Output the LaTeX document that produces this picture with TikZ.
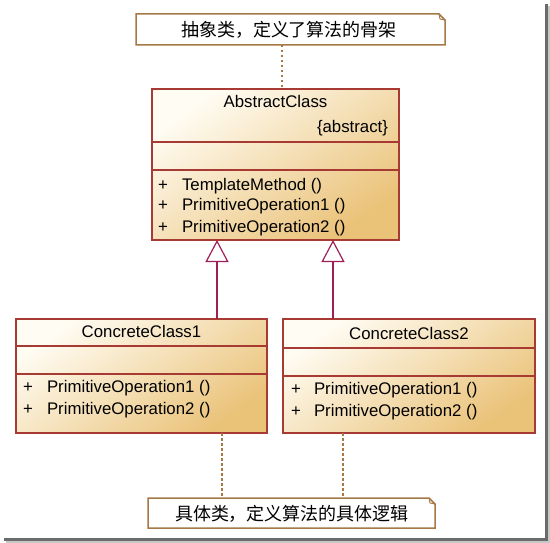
\documentclass[tikz,border=0pt]{standalone}
\usepackage{fontspec}
\setmainfont{Liberation Sans}
\newfontfamily\cjk{Noto Sans CJK SC}
\usetikzlibrary{arrows.meta,calc}
\definecolor{clsborder}{RGB}{168,58,52}
\definecolor{clslight}{RGB}{255,252,243}
\definecolor{clsdark}{RGB}{234,194,120}
\definecolor{inhcol}{RGB}{158,30,88}
\definecolor{notecol}{RGB}{165,120,70}
\begin{document}
\begin{tikzpicture}[x=1pt,y=-1pt,
  font=\fontsize{16.8}{20}\selectfont,
  classbox/.style={draw=clsborder, line width=1.3pt, top color=clslight, bottom color=clsdark, shading angle=35, anchor=north west, inner sep=0pt, outer sep=0pt},
  sepline/.style={draw=clsborder, line width=1.1pt},
  txt/.style={inner sep=0pt, outer sep=0pt},
  notebox/.style={inner sep=0pt, outer sep=0pt, font=\cjk\fontsize{18}{20}\selectfont},
  noteline/.style={draw=notecol, line width=1.5pt, fill=white, line join=miter},
  dots/.style={draw=notecol, line width=1.6pt, dash pattern=on 2.5pt off 2.5pt},
  inh/.style={draw=inhcol, line width=1.2pt, -{Triangle[open, fill=white, length=22pt, width=23pt]}}
]
\useasboundingbox (0,0) rectangle (550,543);
\fill[white] (0,0) rectangle (550,543);
% frame shadow
\fill[black!58] (545,4) rectangle (547.5,540.5);
\fill[black!58] (4,538) rectangle (547.5,540.5);
\fill[black!22] (547.5,6) rectangle (550,543);
\fill[black!22] (6,540.5) rectangle (550,543);

% ---------- AbstractClass ----------
\node[classbox, minimum width=247pt, minimum height=151pt] (abs) at (152,89) {};
\draw[sepline] (abs.west |- 0,142) -- (abs.east |- 0,142);
\draw[sepline] (abs.west |- 0,170) -- (abs.east |- 0,170);
\node[txt, anchor=base] (absname) at (275.5,107.5) {AbstractClass};
\node[txt, anchor=base east] (absster) at (388,133) {\{abstract\}};
\node[txt, anchor=base] (absp1) at (163,190) {+};
\node[txt, anchor=base west] (abso1) at (182,190) {TemplateMethod ()};
\node[txt, anchor=base] (absp2) at (163,211) {+};
\node[txt, anchor=base west] (abso2) at (182,211) {PrimitiveOperation1 ()};
\node[txt, anchor=base] (absp3) at (163,232.5) {+};
\node[txt, anchor=base west] (abso3) at (182,232.5) {PrimitiveOperation2 ()};

% ---------- ConcreteClass1 ----------
\node[classbox, minimum width=251pt, minimum height=114pt] (cc1) at (16,319) {};
\draw[sepline] (cc1.west |- 0,346) -- (cc1.east |- 0,346);
\draw[sepline] (cc1.west |- 0,374) -- (cc1.east |- 0,374);
\node[txt, anchor=base] (cc1name) at (141.5,337) {ConcreteClass1};
\node[txt, anchor=base] (cc1p1) at (28,392.5) {+};
\node[txt, anchor=base west] (cc1o1) at (47,392.5) {PrimitiveOperation1 ()};
\node[txt, anchor=base] (cc1p2) at (28,414.5) {+};
\node[txt, anchor=base west] (cc1o2) at (47,414.5) {PrimitiveOperation2 ()};

% ---------- ConcreteClass2 ----------
\node[classbox, minimum width=252pt, minimum height=114pt] (cc2) at (283,319) {};
\draw[sepline] (cc2.west |- 0,348) -- (cc2.east |- 0,348);
\draw[sepline] (cc2.west |- 0,376) -- (cc2.east |- 0,376);
\node[txt, anchor=base] (cc2name) at (409,339) {ConcreteClass2};
\node[txt, anchor=base] (cc2p1) at (296,394.5) {+};
\node[txt, anchor=base west] (cc2o1) at (314,394.5) {PrimitiveOperation1 ()};
\node[txt, anchor=base] (cc2p2) at (296,416) {+};
\node[txt, anchor=base west] (cc2o2) at (314,416) {PrimitiveOperation2 ()};

% ---------- notes ----------
\node[notebox, minimum width=309pt, minimum height=31pt] (n1) at (290.5,29.5) {};
\draw[noteline] (n1.south west) -- (n1.north west) -- ([xshift=-6pt]n1.north east) -- ([yshift=-6pt]n1.north east) -- (n1.south east) -- cycle;
\draw[draw=notecol, line width=0.9pt] ([xshift=-6pt]n1.north east) -- ([xshift=-5pt,yshift=-5pt]n1.north east) -- ([yshift=-6pt]n1.north east);
\node[notebox] (n1t) at (289,30) {抽象类，定义了算法的骨架};

\node[notebox, minimum width=287pt, minimum height=30pt] (n2) at (291.5,513) {};
\draw[noteline] (n2.south west) -- (n2.north west) -- ([xshift=-6pt]n2.north east) -- ([yshift=-6pt]n2.north east) -- (n2.south east) -- cycle;
\draw[draw=notecol, line width=0.9pt] ([xshift=-6pt]n2.north east) -- ([xshift=-5pt,yshift=-5pt]n2.north east) -- ([yshift=-6pt]n2.north east);
\node[notebox] (n2t) at (292,514) {具体类，定义算法的具体逻辑};

% ---------- connectors ----------
\coordinate (t1) at (282,0);
\coordinate (b1) at (222,0);
\coordinate (b2) at (343,0);
\draw[dots] (n1.south -| t1) -- (abs.north -| t1);
\draw[dots] (cc1.south -| b1) -- (n2.north -| b1);
\draw[dots] (cc2.south -| b2) -- (n2.north -| b2);

\coordinate (g1) at (217,0);
\coordinate (g2) at (333,0);
\draw[inh] (cc1.north -| g1) -- (abs.south -| g1);
\draw[inh] (cc2.north -| g2) -- (abs.south -| g2);
\end{tikzpicture}
\end{document}
